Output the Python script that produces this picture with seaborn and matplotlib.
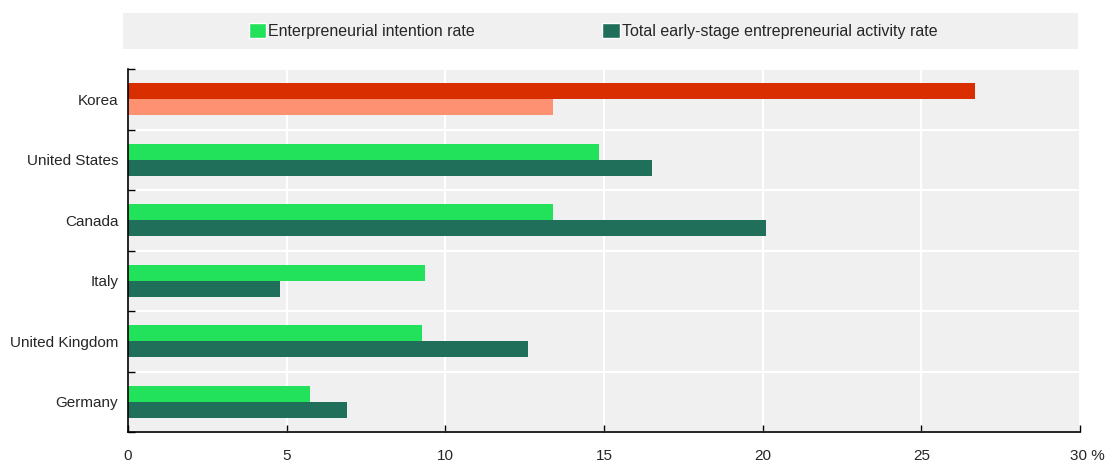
import numpy as np
import pandas as pd
import seaborn as sns
import matplotlib.pyplot as plt
import matplotlib.transforms as mtransforms
from matplotlib.patches import Rectangle, Patch

countries = ["Korea", "United States", "Canada", "Italy", "United Kingdom", "Germany"]
intention = [26.7, 14.85, 13.4, 9.35, 9.25, 5.75]
tea = [13.4, 16.5, 20.1, 4.8, 12.6, 6.9]
series = ["Enterpreneurial intention rate", "Total early-stage entrepreneurial activity rate"]
xtick_labels = ["0", "5", "10", "15", "20", "25", "30 %"]

col_light = "#22E25C"
col_dark = "#1F6F5B"
kor_dark = "#D82E00"
kor_light = "#FF9173"

df = pd.DataFrame({
    "country": countries * 2,
    "value": intention + tea,
    "series": [series[0]] * len(countries) + [series[1]] * len(countries),
})

sns.set_style("white")
plt.rcParams["font.family"] = ["Liberation Sans", "DejaVu Sans"]
plt.rcParams["font.size"] = 11

fig = plt.figure(figsize=(11.07, 4.63), dpi=100)
ax = fig.add_axes([128 / 1107, 31 / 463, 952 / 1107, 363 / 463])
ax.set_facecolor("#F0F0F0")

sns.barplot(data=df, y="country", x="value", hue="series", hue_order=series,
            order=countries, orient="h", width=0.53,
            palette=[col_light, col_dark], saturation=1, ax=ax, legend=False)

# Korea highlighted with its own colours
kor_cols = [kor_dark, kor_light]
for i, cont in enumerate(ax.containers):
    for j, bar in enumerate(cont):
        bar.set_linewidth(0)
        if countries[j] == "Korea":
            bar.set_facecolor(kor_cols[i])

ax.set_xlim(0, 30)
ax.set_ylim(len(countries) - 0.5, -0.5)
ax.set_xticks(np.arange(0, 31, 5))
ax.set_xticklabels(xtick_labels)
ax.set_yticks(np.arange(len(countries)))
ax.set_yticks(np.arange(len(countries) + 1) - 0.5, minor=True)
ax.set_xlabel("")
ax.set_ylabel("")

ax.grid(axis="x", color="white", linewidth=1.5)
ax.grid(axis="y", which="minor", color="white", linewidth=1.5)
ax.grid(axis="y", which="major", visible=False)
ax.set_axisbelow(True)

for s in ["top", "right"]:
    ax.spines[s].set_visible(False)
for s in ["left", "bottom"]:
    ax.spines[s].set_color("black")
    ax.spines[s].set_linewidth(1.2)

ax.tick_params(axis="x", direction="in", length=5, width=1, color="black",
               pad=12, labelsize=11, bottom=True)
ax.tick_params(axis="y", which="major", length=0, pad=7, labelsize=11)
ax.tick_params(axis="y", which="minor", direction="in", length=5, width=1,
               color="black", left=True)

# keep "30" on its tick, "%" hanging to the right
last = ax.get_xticklabels()[-1]
last.set_transform(last.get_transform() +
                   mtransforms.ScaledTranslation(7 / 100, 0, fig.dpi_scale_trans))

# legend band on top
fig.patches.append(Rectangle((123 / 1107, 1 - 49 / 463), 955 / 1107, 36 / 463,
                             transform=fig.transFigure, facecolor="#F0F0F0",
                             edgecolor="none", zorder=0))
handles = [Patch(facecolor=col_light), Patch(facecolor=col_dark)]
fig.legend(handles, series, loc="center", bbox_to_anchor=(593 / 1107, 1 - 31 / 463),
           ncol=2, frameon=False, fontsize=11.5, handlelength=1.1, handleheight=1.1,
           handletextpad=0.1, columnspacing=8.0)

fig.savefig("out.png", dpi=100)
